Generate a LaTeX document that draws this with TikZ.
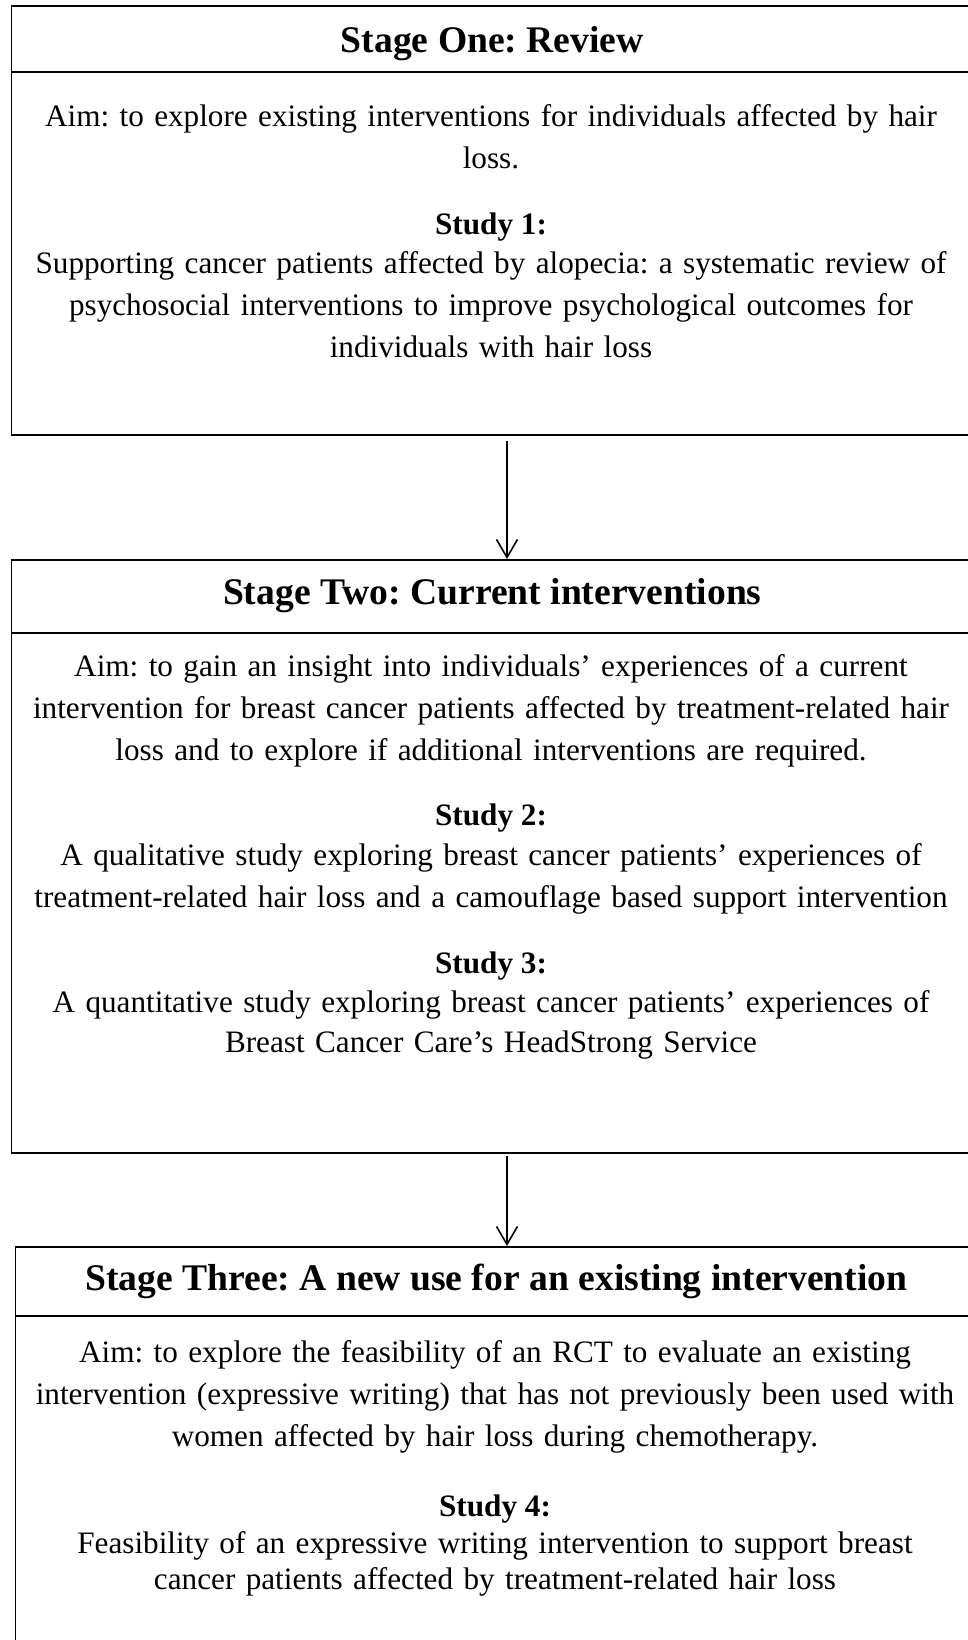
\documentclass[tikz,border=0pt]{standalone}
\usepackage{fontspec}
\setmainfont{Liberation Serif}
\usetikzlibrary{arrows.meta, positioning}
\frenchspacing

\begin{document}
\begin{tikzpicture}[
    x=0.5pt, y=-0.5pt,
    stagebox/.style={draw, line width=0.8pt, inner sep=0pt, anchor=north west,
                     minimum width=481pt},
    stagehead/.style={inner sep=0pt, anchor=north, minimum width=481pt,
                      font=\bfseries\fontsize{18.8}{22}\selectfont},
    aimtext/.style={anchor=north, inner sep=0pt, text width=476pt, align=center,
                    font=\fontsize{15.6}{21}\selectfont},
    studyhead/.style={anchor=north, inner sep=0pt, font=\bfseries\fontsize{15.6}{21}\selectfont},
    rule/.style={line width=0.8pt},
    flow/.style={-{Straight Barb[length=9pt, width=10.5pt]}, line width=0.8pt},
  ]
  \useasboundingbox (0,0) rectangle (968,1640);
  \clip (0,0) rectangle (968,1640);

  % stage one
  \node[stagebox, minimum height=214.5pt] (s1) at (10.5,5) {};
  \node[stagehead, minimum height=33pt, text height=13.8pt, text depth=0pt] (h1) at (s1.north)
    {Stage One: Review};
  \draw[rule] (h1.south west) -- (h1.south east);
  \node[aimtext] (aim1) at (491,104)
    {Aim: to explore existing interventions for individuals affected by hair\\loss.};
  \node[studyhead] (st1) at (491,212) {Study 1:};
  \node[aimtext] (sd1) at (491,251)
    {Supporting cancer patients affected by alopecia: a systematic review of\\
     psychosocial interventions to improve psychological outcomes for\\
     individuals with hair loss};

  % stage two
  \node[stagebox, minimum height=296.5pt] (s2) at (10.5,559) {};
  \node[stagehead, minimum height=36.5pt] (h2) at (s2.north) {Stage Two: Current interventions};
  \draw[rule] (h2.south west) -- (h2.south east);
  \node[aimtext] (aim2) at (491,654)
    {Aim: to gain an insight into individuals’ experiences of a current\\
     intervention for breast cancer patients affected by treatment-related hair\\
     loss and to explore if additional interventions are required.};
  \node[studyhead] (st2) at (491,803) {Study 2:};
  \node[aimtext] (sd2) at (491,843)
    {A qualitative study exploring breast cancer patients’ experiences of\\
     treatment-related hair loss and a camouflage based support intervention};
  \node[studyhead] (st3) at (491,951) {Study 3:};
  \node[aimtext, font=\fontsize{15.6}{20}\selectfont] (sd3) at (491,990)
    {A quantitative study exploring breast cancer patients’ experiences of\\
     Breast Cancer Care’s HeadStrong Service};

  % stage three
  \node[stagebox, minimum height=240pt] (s3) at (14.6,1246) {};
  \node[stagehead, minimum height=34.5pt] (h3) at (s3.north) {Stage Three: A new use for an existing intervention};
  \draw[rule] (h3.south west) -- (h3.south east);
  \node[aimtext] (aim3) at (495,1340)
    {Aim: to explore the feasibility of an RCT to evaluate an existing\\
     intervention (expressive writing) that has not previously been used with\\
     women affected by hair loss during chemotherapy.};
  \node[studyhead] (st4) at (495,1494) {Study 4:};
  \node[aimtext, font=\fontsize{15.6}{18}\selectfont] (sd4) at (495,1531)
    {Feasibility of an expressive writing intervention to support breast\\
     cancer patients affected by treatment-related hair loss};

  % arrows between the stages
  \coordinate (c1) at (507,441);
  \coordinate (c2) at (507,1156);
  \draw[flow] (c1) -- (c1 |- s2.north);
  \draw[flow] (c2) -- (c2 |- s3.north);
\end{tikzpicture}
\end{document}
